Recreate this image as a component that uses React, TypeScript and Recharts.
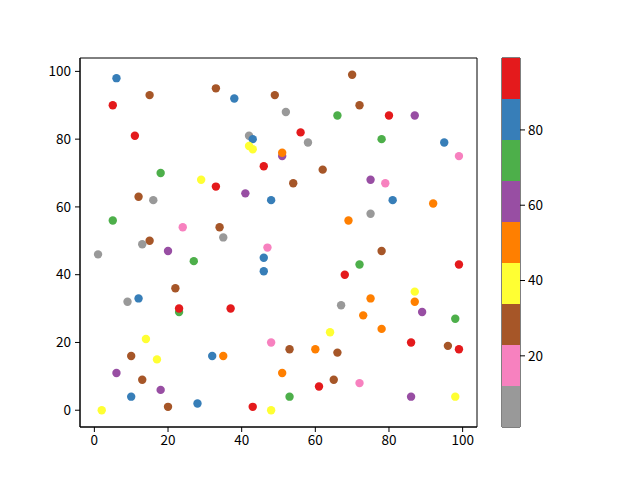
import {
  ScatterChart,
  Scatter,
  XAxis,
  YAxis,
  Cell,
  ReferenceArea,
  BarChart,
  Bar,
} from 'recharts'

// point positions and colour values
const xs = [
  6, 15, 5, 33, 38, 49, 11, 42, 43, 42, 43, 46, 18, 29, 33, 41, 48, 12, 16, 5,
  24, 34, 35, 15, 13, 70, 52, 72, 66, 80, 87, 56, 58, 78, 95, 99, 51, 51, 62, 54,
  75, 79, 81, 92, 75, 69, 1, 20, 27, 47, 46, 46, 22, 9, 12, 23, 23, 37, 14, 48,
  10, 17, 32, 35, 6, 13, 10, 18, 2, 20, 28, 43, 48, 78, 72, 99, 68, 87, 87, 75,
  67, 89, 98, 73, 78, 64, 53, 60, 66, 86, 96, 99, 51, 61, 65, 72, 53, 86, 98,
]
const ys = [
  98, 93, 90, 95, 92, 93, 81, 81, 80, 78, 77, 72, 70, 68, 66, 64, 62, 63, 62, 56,
  54, 54, 51, 50, 49, 99, 88, 90, 87, 87, 87, 82, 79, 80, 79, 75, 75, 76, 71, 67,
  68, 67, 62, 61, 58, 56, 46, 47, 44, 48, 45, 41, 36, 32, 33, 29, 30, 30, 21, 20,
  16, 15, 16, 16, 11, 9, 4, 6, 0, 1, 2, 1, 0, 47, 43, 43, 40, 35, 32, 33,
  31, 29, 27, 28, 24, 23, 18, 18, 17, 20, 19, 18, 11, 7, 9, 8, 4, 4, 4,
]
const cs = [
  83, 28, 94, 28, 83, 28, 94, 6, 83, 39, 39, 94, 72, 39, 94, 61, 83, 28, 6, 72,
  17, 28, 6, 28, 6, 28, 6, 28, 72, 94, 61, 94, 6, 72, 83, 17, 61, 50, 28, 28,
  61, 17, 83, 50, 6, 50, 6, 61, 72, 17, 83, 83, 28, 6, 83, 72, 94, 94, 39, 17,
  28, 39, 83, 50, 61, 28, 83, 61, 39, 28, 83, 94, 39, 28, 72, 94, 94, 39, 50, 50,
  6, 61, 72, 50, 50, 39, 28, 50, 28, 94, 28, 94, 50, 94, 28, 17, 72, 61, 39,
]

const xTicks = [0, 20, 40, 60, 80, 100]
const yTicks = [0, 20, 40, 60, 80, 100]
const cbTicks = [20, 40, 60, 80]
const cMin = 1.1
const cMax = 99.1

// Set1 reversed, low to high
const palette = [
  '#999999', '#f781bf', '#a65628', '#ffff33', '#ff7f00',
  '#984ea3', '#4daf4a', '#377eb8', '#e41a1c',
]

const points = xs.map((x, i) => ({ x, y: ys[i], c: cs[i] }))

function colorFor(c: number) {
  const i = Math.floor(((c - cMin) / (cMax - cMin)) * palette.length)
  return palette[Math.max(0, Math.min(palette.length - 1, i))]
}

const bandSize = (cMax - cMin) / palette.length
const cbRow: Record<string, number | string> = { name: 'cb', base: cMin }
palette.forEach((_, i) => (cbRow['b' + i] = bandSize))
const cbData = [cbRow]

const font = "'Noto Sans CJK SC', 'DejaVu Sans', sans-serif"
const tick = { fill: '#000', fontSize: 13.5, fontFamily: font }

const Dot = (props: any) => (
  <circle cx={props.cx} cy={props.cy} r={4.2} fill={props.fill} />
)

export default function App() {
  return (
    <div style={{ position: 'absolute', left: 0, top: 0, width: 640, height: 480, background: '#fff' }}>
      <div style={{ position: 'absolute', left: 0, top: 0 }}>
        <ScatterChart width={640} height={480} margin={{ top: 58, right: 163, bottom: 23, left: 0 }}>
          <XAxis
            type="number"
            dataKey="x"
            domain={[-3.9, 103.9]}
            ticks={xTicks}
            allowDataOverflow
            tick={tick}
            tickSize={5}
            tickMargin={3}
            height={30}
            stroke="#000"
          />
          <YAxis
            type="number"
            dataKey="y"
            domain={[-4.95, 103.95]}
            ticks={yTicks}
            allowDataOverflow
            tick={tick}
            tickSize={5}
            tickMargin={4}
            width={80}
            stroke="#000"
          />
          <ReferenceArea x1={-3.9} x2={103.9} y1={-4.95} y2={103.95} fill="none" stroke="#000" strokeOpacity={1} />
          <Scatter data={points} shape={Dot} isAnimationActive={false}>
            {points.map((p, i) => (
              <Cell key={i} fill={colorFor(p.c)} />
            ))}
          </Scatter>
        </ScatterChart>
      </div>
      <div style={{ position: 'absolute', left: 490, top: 0 }}>
        <BarChart
          width={110}
          height={480}
          data={cbData}
          margin={{ top: 58, right: 0, bottom: 53, left: 12 }}
          barCategoryGap={0}
        >
          <XAxis dataKey="name" hide />
          <YAxis
            orientation="right"
            type="number"
            domain={[cMin, cMax]}
            ticks={cbTicks}
            allowDataOverflow
            tick={tick}
            tickSize={5}
            tickMargin={3}
            width={80}
            stroke="#000"
            axisLine={false}
          />
          <Bar dataKey="base" stackId="cb" fill="none" isAnimationActive={false} />
          {palette.map((col, i) => (
            <Bar key={i} dataKey={'b' + i} stackId="cb" fill={col} isAnimationActive={false} />
          ))}
          <ReferenceArea x1="cb" x2="cb" y1={cMin} y2={cMax} fill="none" stroke="#000" strokeOpacity={1} />
        </BarChart>
      </div>
    </div>
  )
}
